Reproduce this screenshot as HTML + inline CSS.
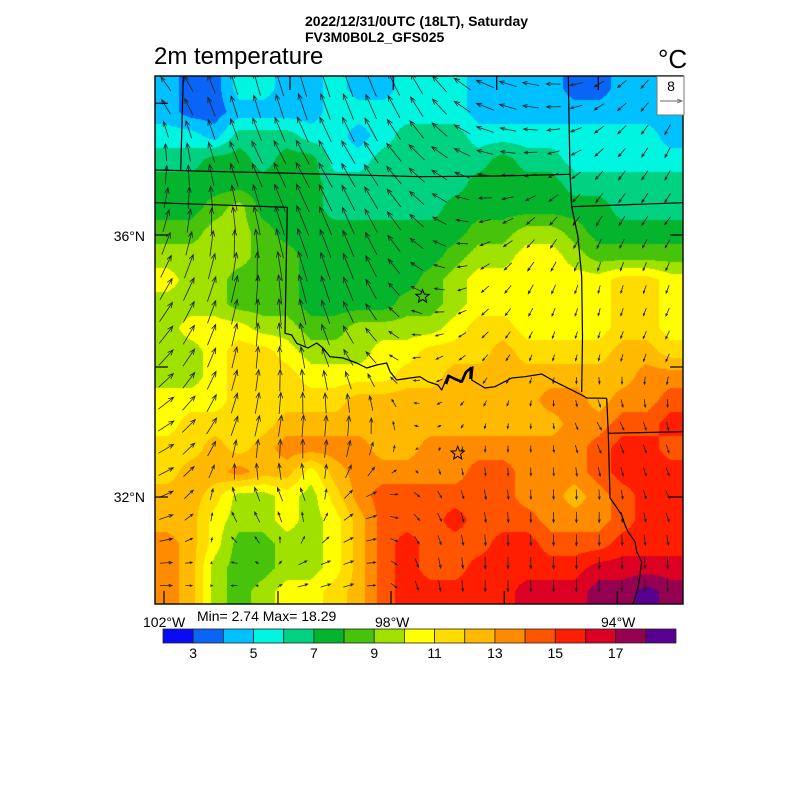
<!DOCTYPE html>
<html><head><meta charset="utf-8"><style>
html,body{margin:0;padding:0;background:#fff;}
#wrap{position:relative;width:800px;height:800px;overflow:hidden;background:#fff;font-family:"Liberation Sans",Arial,sans-serif;}
canvas{position:absolute;left:155px;top:76px;}
svg{position:absolute;left:0;top:0;}
</style></head><body><div id="wrap">
<canvas id="c" width="528" height="528"></canvas>
<svg id="s" width="800" height="800" viewBox="0 0 800 800" font-family="Liberation Sans, Arial, sans-serif">
<defs><clipPath id="mc"><rect x="155" y="76" width="528" height="528"/></clipPath></defs>
<g id="arrows" clip-path="url(#mc)" stroke="#222" stroke-width="0.8" fill="none"></g>
<g clip-path="url(#mc)" stroke="#000" stroke-width="1.2" fill="none" stroke-linejoin="round">
<polyline points="183.3,76 180.7,170"/>
<polyline points="155,170 300,173.5 420,176.7 500,176 570,174.3"/>
<polyline points="155,202.7 287.3,207.3 285,333.3 291.7,335 296.7,343.3 308,348 316.7,343 323,348 330,356.7 343,358 356.7,363 366.7,368 376.7,365 386.7,363 390,371.7 396.7,380 410,378 420,376.7 428,381.7 438,385 441.7,390 446.7,378 448,375 461.7,381.7 468,370 473,366.7 471.7,380 485,388 495,386.7 511.7,378 525,376.7 541.7,374 555,381.7 571.7,390 581.7,395 586.7,398 606.7,398.3"/>
<polyline points="568.3,76 570,173 571.7,206.7 578,236.7 581.7,276.7 582.5,336.7 581.7,392"/>
<polyline points="571.7,206.7 683,202.7"/>
<polyline points="606.7,398.3 608.3,433.3 610,498 615,505 621.7,515 625,525 628,531.7 635,541.7 636.7,551.7 641.7,561.7 640,575 638,588 633,604"/>
<polyline points="608.3,433.3 683,431.7"/>
<polyline stroke-width="2.6" points="446,384 449,376 455,379 461.7,381.7 466,372 471,368 470.5,379"/>
<line x1="155" y1="103.3" x2="168" y2="103.3"/><line x1="155" y1="235" x2="168" y2="235"/>
<line x1="155" y1="367" x2="168" y2="367"/><line x1="155" y1="497" x2="168" y2="497"/>
<line x1="670" y1="235" x2="683" y2="235"/><line x1="670" y1="367" x2="683" y2="367"/><line x1="670" y1="497" x2="683" y2="497"/>
<line x1="290" y1="76" x2="290" y2="90"/><line x1="393.3" y1="76" x2="393.3" y2="90"/><line x1="496.7" y1="76" x2="496.7" y2="90"/><line x1="598.3" y1="76" x2="598.3" y2="90"/>
<line x1="164" y1="591" x2="164" y2="604"/><line x1="278" y1="591" x2="278" y2="604"/><line x1="391" y1="591" x2="391" y2="604"/><line x1="504.3" y1="591" x2="504.3" y2="604"/><line x1="617.3" y1="591" x2="617.3" y2="604"/>
</g>
<g id="stars" stroke="#000" stroke-width="1" fill="none"></g>
<rect x="155" y="76" width="528" height="528" fill="none" stroke="#111" stroke-width="1.5"/>
<rect x="657" y="76.5" width="27" height="38.5" fill="#fff" stroke="#777" stroke-width="1"/>
<text x="671" y="91" font-size="14" text-anchor="middle" fill="#000">8</text>
<line x1="660" y1="101" x2="682" y2="101" stroke="#666" stroke-width="0.9"/>
<polyline points="677,99 682,101 677,103" stroke="#666" stroke-width="0.9" fill="none"/>
<text x="305" y="26" font-size="14" font-weight="bold" fill="#000">2022/12/31/0UTC (18LT), Saturday</text>
<text x="305" y="42" font-size="14" font-weight="bold" fill="#000">FV3M0B0L2_GFS025</text>
<text x="154" y="64" font-size="24" fill="#000">2m temperature</text>
<text x="658" y="68" font-size="26" fill="#000">°C</text>
<text x="145" y="241" font-size="14" text-anchor="end" fill="#000">36°N</text>
<text x="145" y="502" font-size="14" text-anchor="end" fill="#000">32°N</text>
<text x="143" y="627" font-size="14" fill="#000">102°W</text>
<text x="375" y="627" font-size="14" fill="#000">98°W</text>
<text x="601" y="627" font-size="14" fill="#000">94°W</text>
<text x="197" y="621" font-size="14" fill="#000">Min= 2.74 Max= 18.29</text>
<g id="cbar"></g>
</svg>
</div>
<script>
(function(){
var G=[
"2113322322333222211222",
"2112222333333222222222",
"3324443323444333333332",
"4455455334444454433333",
"5555555444444555544444",
"5567555444445555555444",
"6677655555555667765555",
"7777665555556778876666",
"8776665555567888888998",
"7776665555667888888998",
"7888776677778998888998",
"77899877788999a9999aa9",
"778999888899aaaaaaaabb",
"88899999aaaaaaaabbabbc",
"89999aaaaaaaaaaaabbccd",
"99a9abbbbaabbbbbbbcddc",
"9aabaa8abbbbbccbbbcddd",
"aa977879bccccccbbabcdd",
"aa877878acccdcccbbbcdd",
"ba866778acdcccddcccddd",
"ba766778acdccdddddeeee",
"ba767889acdddddeeeffgf"];
var C=["#0a0af5","#0a64f5","#00c0ff","#00f5e1","#00d282","#05b42d","#46c30a","#a0e100","#ffff00","#ffdc00","#ffb900","#ff8c00","#ff5500","#ff1e00","#dc0023","#960050","#5a0091"];
var rgb=C.map(function(h){return [parseInt(h.substr(1,2),16),parseInt(h.substr(3,2),16),parseInt(h.substr(5,2),16)];});
var V=G.map(function(r){var a=[];for(var i=0;i<r.length;i++)a.push(parseInt(r[i],17)+0.5);return a;});
var cv=document.getElementById('c'),ctx=cv.getContext('2d');
var W=528,H=528,img=ctx.createImageData(W,H),d=img.data;
for(var py=0;py<H;py++){
 var gy=(py+0.5)/24-0.5; if(gy<0)gy=0; if(gy>21)gy=21;
 var y0=Math.floor(gy),y1=Math.min(y0+1,21),fy=gy-y0;
 for(var px=0;px<W;px++){
  var gx=(px+0.5)/24-0.5; if(gx<0)gx=0; if(gx>21)gx=21;
  var x0=Math.floor(gx),x1=Math.min(x0+1,21),fx=gx-x0;
  var v=(V[y0][x0]*(1-fx)+V[y0][x1]*fx)*(1-fy)+(V[y1][x0]*(1-fx)+V[y1][x1]*fx)*fy;
  var k=Math.floor(v); if(k<0)k=0; if(k>16)k=16;
  var o=(py*W+px)*4; d[o]=rgb[k][0];d[o+1]=rgb[k][1];d[o+2]=rgb[k][2];d[o+3]=255;
 }
}
ctx.putImageData(img,0,0);
var NS="http://www.w3.org/2000/svg";
function el(n,a,p){var e=document.createElementNS(NS,n);for(var k in a)e.setAttribute(k,a[k]);p.appendChild(e);return e;}
var cb=document.getElementById('cbar'),bw=(676-163)/17;
for(var i=0;i<17;i++){el('rect',{x:163+i*bw,y:629,width:bw,height:14,fill:C[i],stroke:'#222','stroke-width':0.8},cb);}
var labs=["3","5","7","9","11","13","15","17"];
for(var i=0;i<labs.length;i++){var t=el('text',{x:163+(1+2*i)*bw,y:658,'font-size':14,'text-anchor':'middle',fill:'#000'},cb);t.textContent=labs[i];}
var WY=[100,160,220,280,350,430,500,570],WX=[170,240,300,360,420,480,540,600,670];
var WT=[
[[-10,-14],[-6,-22],[-8,-26],[-10,-26],[-12,-20],[-18,-8],[-16,-2],[-10,6],[-6,10]],
[[0,-18],[-10,-22],[-14,-24],[-14,-22],[-16,-14],[-16,-4],[-12,2],[-8,8],[-5,10]],
[[6,-22],[-4,-28],[-12,-30],[-12,-26],[-14,-12],[-12,2],[-8,8],[-6,10],[-6,8]],
[[12,-22],[6,-28],[-8,-30],[-10,-24],[-12,-6],[-8,6],[-5,10],[-2,8],[-3,8]],
[[14,-16],[4,-22],[-4,-22],[-12,-14],[-8,2],[-6,6],[-2,6],[-2,6],[-4,8]],
[[16,-10],[6,-20],[2,-22],[2,-20],[-4,0],[-1,5],[0,5],[5,8],[2,8]],
[[14,-6],[-6,-14],[-6,-12],[12,-6],[6,6],[2,10],[0,10],[0,10],[4,8]],
[[12,0],[-8,0],[10,-3],[10,-3],[3,10],[0,12],[0,12],[0,12],[0,12]]];
function ip(a,v){if(v<=a[0])return [0,0];if(v>=a[a.length-1])return [a.length-2,1];for(var i=0;i<a.length-1;i++)if(v<a[i+1])return [i,(v-a[i])/(a[i+1]-a[i])];return [a.length-2,1];}
var ag=document.getElementById('arrows'),s='';
for(var j=0;j<23;j++){for(var i=0;i<23;i++){
 var x=166+22.8*i,y=84+22.8*j;
 var a=ip(WY,y),b=ip(WX,x),r=a[0],fy2=a[1],c=b[0],fx2=b[1];
 var dx=(WT[r][c][0]*(1-fx2)+WT[r][c+1][0]*fx2)*(1-fy2)+(WT[r+1][c][0]*(1-fx2)+WT[r+1][c+1][0]*fx2)*fy2;
 var dy=(WT[r][c][1]*(1-fx2)+WT[r][c+1][1]*fx2)*(1-fy2)+(WT[r+1][c][1]*(1-fx2)+WT[r+1][c+1][1]*fx2)*fy2;
 var L=Math.sqrt(dx*dx+dy*dy); if(L<2){dx=dx/(L||1)*2;dy=dy/(L||1)*2;L=2;}
 var tx=x-dx/2,ty=y-dy/2,hx=x+dx/2,hy=y+dy/2;
 var ux=dx/L,uy=dy/L,hl=Math.min(6,Math.max(2.5,L*0.3)),ca=Math.cos(0.38),sa=Math.sin(0.38);
 var l1x=hx-hl*(ux*ca-uy*sa),l1y=hy-hl*(uy*ca+ux*sa),l2x=hx-hl*(ux*ca+uy*sa),l2y=hy-hl*(uy*ca-ux*sa);
 s+='M'+tx.toFixed(1)+' '+ty.toFixed(1)+'L'+hx.toFixed(1)+' '+hy.toFixed(1)+'M'+l1x.toFixed(1)+' '+l1y.toFixed(1)+'L'+hx.toFixed(1)+' '+hy.toFixed(1)+'L'+l2x.toFixed(1)+' '+l2y.toFixed(1);
}}
el('path',{d:s},ag);
var sg=document.getElementById('stars');
[[422.5,296.5],[457.7,453.3]].forEach(function(p){var pts=[];for(var k=0;k<10;k++){var rr=(k%2==0)?7:3,an=-Math.PI/2+k*Math.PI/5;pts.push((p[0]+rr*Math.cos(an)).toFixed(1)+','+(p[1]+rr*Math.sin(an)).toFixed(1));}el('polygon',{points:pts.join(' ')},sg);});
})();
</script>
</body></html>
